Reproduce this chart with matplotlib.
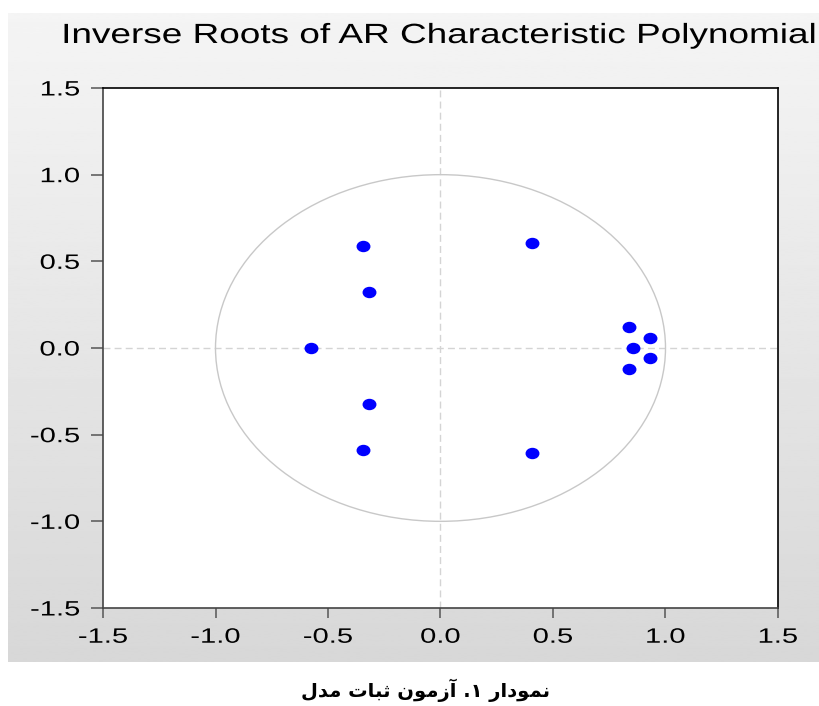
#!/usr/bin/env python3
"""Inverse roots of the AR characteristic polynomial inside the unit circle."""

import matplotlib
matplotlib.use("Agg")
import matplotlib.pyplot as plt
from matplotlib.patches import Circle
from matplotlib.patheffects import AbstractPathEffect
from matplotlib.transforms import Affine2D
from matplotlib.path import Path
import numpy as np

root_re = [-0.343, -0.319, -0.574, -0.319, -0.343,
           0.407, 0.407, 0.839, 0.930, 0.857, 0.930, 0.839]
root_im = [0.587, 0.323, 0.0, -0.323, -0.587,
           0.603, -0.603, 0.122, 0.055, 0.0, -0.055, -0.122]

ticks = [-1.5, -1.0, -0.5, 0.0, 0.5, 1.0, 1.5]
title = "Inverse Roots of AR Characteristic Polynomial"
caption = "نمودار ۱. آزمون ثبات مدل"

# minimal Arabic shaping (matplotlib does no shaping / bidi on its own)
FORMS = {
    # letter: (isolated, final, initial, medial)
    "ا": ("\uFE8D", "\uFE8E", None, None),
    "آ": ("\uFE81", "\uFE82", None, None),
    "ب": ("\uFE8F", "\uFE90", "\uFE91", "\uFE92"),
    "ت": ("\uFE95", "\uFE96", "\uFE97", "\uFE98"),
    "ث": ("\uFE99", "\uFE9A", "\uFE9B", "\uFE9C"),
    "د": ("\uFEA9", "\uFEAA", None, None),
    "ر": ("\uFEAD", "\uFEAE", None, None),
    "ز": ("\uFEAF", "\uFEB0", None, None),
    "ل": ("\uFEDD", "\uFEDE", "\uFEDF", "\uFEE0"),
    "م": ("\uFEE1", "\uFEE2", "\uFEE3", "\uFEE4"),
    "ن": ("\uFEE5", "\uFEE6", "\uFEE7", "\uFEE8"),
    "و": ("\uFEED", "\uFEEE", None, None),
}


def shape_rtl(text):
    out = []
    for i, ch in enumerate(text):
        if ch not in FORMS:
            out.append(ch)
            continue
        prev = text[i - 1] if i > 0 else ""
        nxt = text[i + 1] if i + 1 < len(text) else ""
        join_prev = prev in FORMS and FORMS[prev][2] is not None
        join_next = FORMS[ch][2] is not None and nxt in FORMS
        iso, fin, ini, med = FORMS[ch]
        if join_prev and join_next:
            out.append(med)
        elif join_prev:
            out.append(fin)
        elif join_next:
            out.append(ini)
        else:
            out.append(iso)
    return "".join(out)[::-1]


class HStretch(AbstractPathEffect):
    """Widen glyphs horizontally (the source chart has stretched text)."""

    def __init__(self, sx, anchor="center"):
        super().__init__()
        self.sx = sx
        self.anchor = anchor

    def draw_path(self, renderer, gc, tpath, affine, rgbFace=None):
        ext = affine.transform_path(tpath).get_extents()
        x0 = {"left": ext.x0, "right": ext.x1}.get(self.anchor,
                                                   (ext.x0 + ext.x1) / 2)
        stretch = Affine2D().translate(-x0, 0).scale(self.sx, 1).translate(x0, 0)
        renderer.draw_path(gc, tpath, affine + stretch, rgbFace)


fig = plt.figure(figsize=(8.2, 7.06), dpi=100)
fig.patch.set_facecolor("white")

# grey gradient panel behind the chart
bg = fig.add_axes([8 / 820, 1 - 662 / 706, 812 / 820, 649 / 706], zorder=-10)
grad = np.linspace(0.958, 0.845, 256).reshape(-1, 1)
bg.imshow(grad, aspect="auto", cmap="gray", vmin=0, vmax=1,
          extent=[0, 1, 0, 1])
bg.axis("off")

ax = fig.add_axes([103 / 820, 1 - 608 / 706, 675 / 820, 520 / 706])
ax.set_facecolor("white")

ax.axhline(0, color="#d4d4d4", lw=1, ls=(0, (5, 3)), zorder=1)
ax.axvline(0, color="#d4d4d4", lw=1, ls=(0, (5, 3)), zorder=1)
ax.add_patch(Circle((0, 0), 1, fill=False, ec="#c8c8c8", lw=1, zorder=2))

# dots are slightly wider than tall in the source
dot = Path.unit_circle().transformed(Affine2D().scale(1.25, 1.0))
ax.plot(root_re, root_im, ls="none", marker=dot, color="#0000ff", ms=9,
        mec="#0000ff", zorder=3)

ax.set_xlim(-1.5, 1.5)
ax.set_ylim(-1.5, 1.5)
ax.set_xticks(ticks)
ax.set_yticks(ticks)
ax.set_xticklabels([f"{t:.1f}" for t in ticks])
ax.set_yticklabels([f"{t:.1f}" for t in ticks])

for side in ["left", "bottom", "right", "top"]:
    ax.spines[side].set_linewidth(1.2)
    ax.spines[side].set_color("black")
ax.spines["left"].set_color("#444444")
ax.spines["bottom"].set_color("#444444")

ax.tick_params(axis="y", direction="out", length=8.6, width=1.1,
               color="#555555", pad=8, labelsize=15)
ax.tick_params(axis="x", direction="out", length=7.2, width=1.1,
               color="#555555", pad=7, labelsize=15)
for lbl in ax.get_xticklabels():
    lbl.set_fontfamily("Liberation Sans")
    lbl.set_path_effects([HStretch(1.4, "center")])
for lbl in ax.get_yticklabels():
    lbl.set_fontfamily("Liberation Sans")
    lbl.set_path_effects([HStretch(1.4, "right")])

fig.text(438.5 / 820, 1 - 43 / 706, title, ha="center", va="baseline",
         fontsize=20, family="Liberation Sans",
         path_effects=[HStretch(1.33, "center")])

fig.text(426 / 820, 1 - 690 / 706, shape_rtl(caption), ha="center",
         va="center", fontsize=14, fontweight="bold", family="DejaVu Sans")

fig.savefig("out.png", dpi=100)
